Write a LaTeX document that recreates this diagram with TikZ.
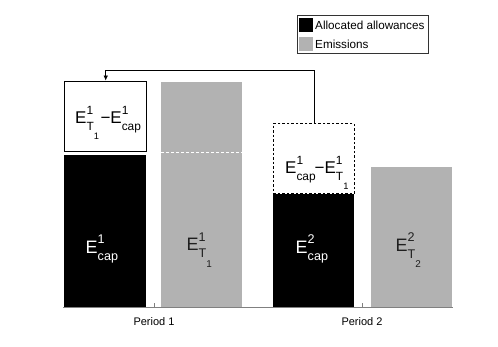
\documentclass[tikz,border=0pt]{standalone}
\usepackage{fontspec}
\setmainfont{Liberation Sans}
\usetikzlibrary{arrows.meta}
\definecolor{mgray}{rgb}{0.7,0.7,0.7}
% #1 base size, #2 superscript, #3 subscript
\newcommand\EL[3]{\fontsize{#1}{#1}\selectfont E%
\rlap{\raisebox{0.52em}{\fontsize{\fpeval{#1*0.7}}{1}\selectfont #2}}%
\raisebox{-0.4em}{\fontsize{\fpeval{#1*0.7}}{1}\selectfont #3}}
\newcommand\Tsub[2]{T\raisebox{-0.75em}{\fontsize{\fpeval{#1*0.55}}{1}\selectfont #2}}
\begin{document}
\begin{tikzpicture}[x=1pt,y=-1pt,
  bar/.style={draw=none, inner sep=0pt, anchor=south west},
  blackbar/.style={bar, fill=black},
  graybar/.style={bar, fill=mgray},
  barlbl/.style={inner sep=0pt, anchor=base west},
  axlbl/.style={inner sep=0pt, font=\fontsize{11}{13}\selectfont},
  leglbl/.style={inner sep=0pt, anchor=west, font=\fontsize{11.7}{13}\selectfont},
  swatch/.style={inner sep=0pt, anchor=north west, minimum width=14pt, minimum height=14pt}]
\useasboundingbox[fill=white] (0,0) rectangle (498,346);
% bars
\node[blackbar, minimum width=82pt, minimum height=152pt] (b1) at (64,307) {};
\node[graybar, minimum width=81pt, minimum height=225pt] (g1) at (161,307) {};
\node[blackbar, minimum width=81pt, minimum height=113pt] (b2) at (273,307) {};
\node[graybar, minimum width=81pt, minimum height=140pt] (g2) at (371,307) {};
% boxes
\node[bar, draw=black, line width=1.4pt, fill=white, minimum width=82pt, minimum height=70pt] (box1) at (64,152) {};
\node[bar, draw=black, line width=0.8pt, dash pattern=on 2.5pt off 2pt, fill=white, minimum width=81pt, minimum height=70pt] (box2) at (273,194) {};
% dashed white line on gray bar 1
\draw[white, line width=0.8pt, dash pattern=on 3pt off 2pt] (g1.west |- box1.south) -- (g1.east |- box1.south);
% arrow
\coordinate (turn) at (313.5,70);
\draw[line width=0.7pt, -{Latex[length=5pt,width=4.5pt]}] (box2.north) -- (box2.north |- turn) -| (box1.north);
% labels
\node[barlbl, text=white] (l1) at (85.5,253.3) {\EL{18}{1}{cap}};
\node[barlbl, text=black!88] (l2) at (186.5,250.7) {\EL{18}{1}{\Tsub{18}{1}}};
\node[barlbl, text=white] (l3) at (295.5,253.3) {\EL{18}{2}{cap}};
\node[barlbl, text=black!88] (l4) at (395.5,251) {\EL{18}{2}{\Tsub{18}{2}}};
\node[barlbl] (bl1) at (75,123.3) {\EL{17}{1}{\Tsub{17}{1}}\hspace{1.5pt}−\EL{17}{1}{cap}};
\node[barlbl] (bl2) at (285,173.3) {\EL{17}{1}{cap}\hspace{-1pt}−\EL{17}{1}{\Tsub{17}{1}}};
% axis
\coordinate (axL) at (63,307);
\coordinate (axR) at (453,307);
\draw[gray, line width=0.5pt] (axL) -- (axR);
\coordinate (t1) at (154,307);
\coordinate (t2) at (362,307);
\draw[gray, line width=0.5pt] (t1) -- ++(0,-4);
\draw[gray, line width=0.5pt] (t2) -- ++(0,-4);
\node[axlbl] (p1) at (154,322) {Period 1};
\node[axlbl] (p2) at (362,322) {Period 2};
% legend
\node[draw=black!80, line width=0.5pt, fill=white, inner sep=0pt, anchor=north west, minimum width=131pt, minimum height=38pt] (leg) at (297,15) {};
\node[swatch, fill=black] (s1) at (299,18) {};
\node[swatch, fill=mgray] (s2) at (299,37) {};
\node[leglbl] (lt1) at (315,25) {Allocated allowances};
\node[leglbl] (lt2) at (315,44) {Emissions};
\end{tikzpicture}
\end{document}
